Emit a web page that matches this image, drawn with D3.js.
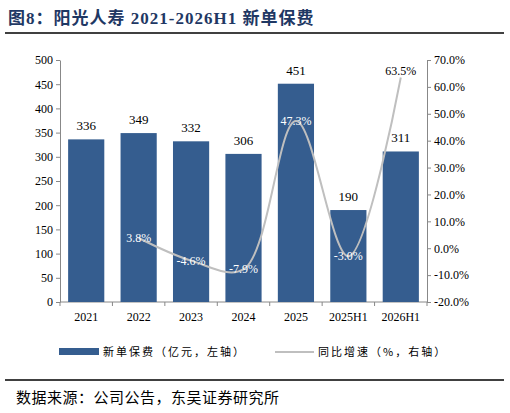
<!DOCTYPE html><html><head><meta charset="utf-8"><script src="https://cdn.jsdelivr.net/npm/d3@7"></script>
<style>body{margin:0;background:#fff}</style></head><body><svg id="c" width="510" height="413"></svg>
<script>
const categories=["2021","2022","2023","2024","2025","2025H1","2026H1"];
const premium=[336,349,332,306,451,190,311];
const growth=[null,3.8,-4.6,-7.9,47.3,-3.0,63.5];
const leftTicks=[0,50,100,150,200,250,300,350,400,450,500];
const rightTicks=[-20,-10,0,10,20,30,40,50,60,70];
const svg=d3.select("#c");
const serif="'Liberation Serif','Times New Roman',serif", cjk="'Noto Sans CJK SC',sans-serif";
svg.append("text").attr("x",8).attr("y",24).attr("font-family",serif+","+cjk).attr("font-weight","bold").attr("font-size",17).attr("letter-spacing",1).attr("fill","#1f3864").text("图8：阳光人寿 2021-2026H1 新单保费");
svg.append("line").attr("x1",5).attr("x2",504).attr("y1",33).attr("y2",33).attr("stroke","#000").attr("stroke-width",1.5);
const x=d3.scaleBand().domain(categories).range([60,427]).paddingInner(0.31).paddingOuter(0.155);
const y=d3.scaleLinear().domain([0,500]).range([302,60]);
const y2=d3.scaleLinear().domain([-20,70]).range([302,60]);
const la=svg.append("g").attr("transform","translate(60,0)").call(d3.axisLeft(y).tickValues(leftTicks).tickSize(4).tickSizeOuter(0));
const ra=svg.append("g").attr("transform","translate(427,0)").call(d3.axisRight(y2).tickValues(rightTicks).tickFormat(d=>d.toFixed(1)+"%").tickSize(4).tickSizeOuter(0));
const ba=svg.append("g").attr("transform","translate(0,302)").call(d3.axisBottom(x).tickSize(0));
ba.select(".domain").attr("d","M60,0H427");
const edges=d3.range(8).map(i=>60+i*(367/7));
ba.selectAll(".tk").data(edges).enter().append("line").attr("x1",d=>d).attr("x2",d=>d).attr("y1",0).attr("y2",4).attr("stroke","#888");
[la,ra,ba].forEach(a=>{a.selectAll("text").attr("font-family",serif).attr("font-size",12).attr("fill","#000");a.selectAll("line,path").attr("stroke","#888");});
ba.selectAll(".tick text").attr("dy","1.3em");
svg.selectAll(".bar").data(premium).enter().append("rect").attr("x",(d,i)=>x(categories[i])).attr("width",x.bandwidth()).attr("y",d=>y(d)).attr("height",d=>302-y(d)).attr("fill","#355d8f");
svg.selectAll(".bl").data(premium).enter().append("text").attr("x",(d,i)=>x(categories[i])+x.bandwidth()/2).attr("y",d=>y(d)-9).attr("text-anchor","middle").attr("font-family",serif).attr("font-size",13).text(d=>d);
const pts=growth.map((g,i)=>[x(categories[i])+x.bandwidth()/2,g]).filter(p=>p[1]!==null);
svg.append("path").attr("d",d3.line().x(p=>p[0]).y(p=>y2(p[1])).curve(d3.curveCatmullRom.alpha(0.5))(pts)).attr("fill","none").attr("stroke","#bfbfbf").attr("stroke-width",2);
svg.selectAll(".gl").data(pts).enter().append("text").attr("x",p=>p[0]).attr("y",p=>y2(p[1])+4).attr("text-anchor","middle").attr("font-family",serif).attr("font-size",12)
 .attr("fill",(p,i)=>i===pts.length-1?"#000":"#fff").attr("dy",(p,i)=>i===pts.length-1?"-6":"0").text(p=>p[1].toFixed(1)+"%");
const lg=svg.append("g").attr("font-family",cjk).attr("font-size",11).attr("letter-spacing",2);
lg.append("rect").attr("x",59).attr("y",348).attr("width",40).attr("height",7).attr("fill","#355d8f");
lg.append("text").attr("x",103).attr("y",356).text("新单保费（亿元，左轴）");
lg.append("line").attr("x1",275).attr("x2",314).attr("y1",352).attr("y2",352).attr("stroke","#bfbfbf").attr("stroke-width",2);
lg.append("text").attr("x",318).attr("y",356).text("同比增速（%，右轴）");
svg.append("line").attr("x1",5).attr("x2",504).attr("y1",380).attr("y2",380).attr("stroke","#000").attr("stroke-width",1.5);
svg.append("text").attr("x",16).attr("y",403).attr("font-family",cjk).attr("font-size",15).attr("letter-spacing",0.5).text("数据来源：公司公告，东吴证券研究所");
</script></body></html>
